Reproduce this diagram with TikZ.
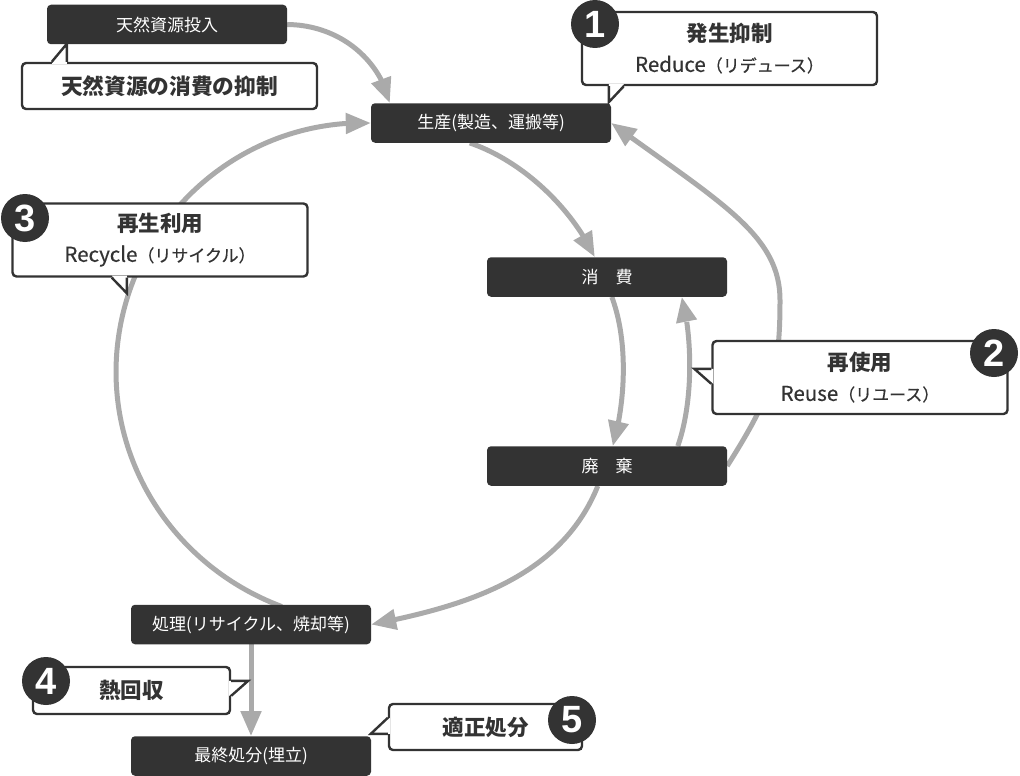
\documentclass[tikz,border=0pt]{standalone}
\usepackage{fontspec}
\setmainfont{Noto Sans CJK JP}
\newfontfamily\medfont{Noto Sans CJK JP}[FakeBold=0.5]
\newfontfamily\numfont{Liberation Sans}
\usetikzlibrary{arrows.meta,bending,calc,backgrounds}
\definecolor{dk}{RGB}{51,51,51}
\definecolor{ar}{RGB}{170,170,170}
\begin{document}
\begin{tikzpicture}[x=1pt,y=-1pt,
  blk/.style={fill=dk, rounded corners=4pt, minimum width=240pt, minimum height=39.5pt, inner sep=0pt, text=white, font=\fontsize{17}{19}\selectfont},
  cbox/.style={fill=white, draw=dk, line width=2.4pt, rounded corners=4pt, inner sep=0pt, text=dk, align=center, font=\medfont\fontsize{20.5}{30}\selectfont},
  flow/.style={draw=ar, line width=5pt, -{Triangle[length=25pt,width=20pt]}},
  num/.style={circle, fill=dk, minimum size=48pt, inner sep=0pt, text=white, font=\numfont\bfseries\fontsize{38}{38}\selectfont},
  tl/.style={draw=dk, line width=2.4pt, line join=miter}
]
\useasboundingbox (0,0) rectangle (1020,776);

% boxes
\node[blk] (b0) at (167,24.5) {天然資源投入};
\node[blk] (b1) at (491,123) {生産(製造、運搬等)};
\node[blk] (b2) at (607,277) {消　費};
\node[blk] (b3) at (607,466) {廃　棄};
\node[blk] (b4) at (251,624.5) {処理(リサイクル、焼却等)};
\node[blk] (b5) at (251,756) {最終処分(埋立)};

% arrows
\begin{pgfonlayer}{background}
\draw[flow] (b0.east) .. controls (340,25) and (380,60) .. ($(b1.north west)+(19,0)$);
\draw[flow] ($(b1.south west)+(99,0)$) .. controls (520,160) and (570,205) .. ($(b2.north west)+(108,0)$);
\draw[flow] ($(b2.south west)+(125,0)$) .. controls (628,340) and (626,400) .. ($(b3.north west)+(126,0)$);
\draw[flow] ($(b3.north west)+(191,0)$) .. controls (694,400) and (692,335) .. ($(b2.south west)+(195,0)$);
\draw[flow] (b3.east) .. controls (773.6,392.6) and (780,368) .. (780,300) .. controls (780,235) and (721,203) .. (b1.east);
\draw[flow] ($(b3.south west)+(111,0)$) .. controls (560,580) and (460,607) .. (b4.east);
\draw[flow] ($(b4.north west)+(151,2)$) .. controls (166.6,563.4) and (97.7,446.6) .. (120.3,326) .. controls (142.9,205.4) and (249.4,119.1) .. (b1.west);
\draw[flow] (b4.south) -- (b5.north);
\end{pgfonlayer}

% callouts
\node[cbox, minimum width=295pt, minimum height=46pt] (c0) at (169.5,86) {{\rmfamily\bfseries\fontsize{21.7}{30}\selectfont 天然資源の消費の抑制}};
\node[cbox, minimum width=295pt, minimum height=73pt] (c1) at (729.5,48.5) {{\rmfamily\bfseries\fontsize{21.5}{30}\selectfont 発生抑制}\\Reduce{\fontsize{17}{30}\selectfont（リデュース）}};
\node[cbox, minimum width=295pt, minimum height=73pt] (c2) at (860,377.5) {{\rmfamily\bfseries\fontsize{21.5}{30}\selectfont 再使用}\\Reuse{\fontsize{17}{30}\selectfont（リユース）}};
\node[cbox, minimum width=295pt, minimum height=73pt] (c3) at (160,240) {{\rmfamily\bfseries\fontsize{21.5}{30}\selectfont 再生利用}\\Recycle{\fontsize{17}{30}\selectfont（リサイクル）}};
\node[cbox, minimum width=197pt, minimum height=47pt] (c4) at (131.5,690.5) {{\rmfamily\bfseries\fontsize{21.5}{30}\selectfont 熱回収}};
\node[cbox, minimum width=193pt, minimum height=46pt] (c5) at (485.5,727) {{\rmfamily\bfseries\fontsize{21.5}{30}\selectfont 適正処分}};

% tails
\fill[white] ($(c0.north west)+(31,2)$) -- ($(c0.north west)+(46,-18)$) -- ($(c0.north west)+(46,2)$) -- cycle;
\draw[tl] ($(c0.north west)+(31,0)$) -- ($(c0.north west)+(46,-18)$) -- ($(c0.north west)+(46,0)$);

\fill[white] ($(c1.south west)+(28,-2)$) -- ($(c1.south west)+(28,16)$) -- ($(c1.south west)+(43,-2)$) -- cycle;
\draw[tl] ($(c1.south west)+(28,0)$) -- ($(c1.south west)+(28,16)$) -- ($(c1.south west)+(43,0)$);

\fill[white] ($(c2.north west)+(2,29)$) -- ($(c2.north west)+(-17,29)$) -- ($(c2.north west)+(2,44)$) -- cycle;
\draw[tl] ($(c2.north west)+(0,29)$) -- ($(c2.north west)+(-17,29)$) -- ($(c2.north west)+(0,44)$);

\fill[white] ($(c3.south west)+(100.5,-2)$) -- ($(c3.south west)+(115.5,15.5)$) -- ($(c3.south west)+(115.5,-2)$) -- cycle;
\draw[tl] ($(c3.south west)+(100.5,0)$) -- ($(c3.south west)+(115.5,15.5)$) -- ($(c3.south west)+(115.5,0)$);

\fill[white] ($(c4.north east)+(-2,15)$) -- ($(c4.north east)+(17,15)$) -- ($(c4.north east)+(-2,30)$) -- cycle;
\draw[tl] ($(c4.north east)+(0,15)$) -- ($(c4.north east)+(17,15)$) -- ($(c4.north east)+(0,30)$);

\fill[white] ($(c5.north west)+(2,15)$) -- ($(c5.north west)+(-17,31)$) -- ($(c5.north west)+(2,31)$) -- cycle;
\draw[tl] ($(c5.north west)+(0,15)$) -- ($(c5.north west)+(-17,31)$) -- ($(c5.north west)+(0,31)$);

% numbers
\node[num] (n1) at (595,24) {1};
\node[num] (n2) at (994,353) {2};
\node[num] (n3) at (25,218) {3};
\node[num] (n4) at (46,681) {4};
\node[num] (n5) at (572,720) {5};
\end{tikzpicture}
\end{document}
